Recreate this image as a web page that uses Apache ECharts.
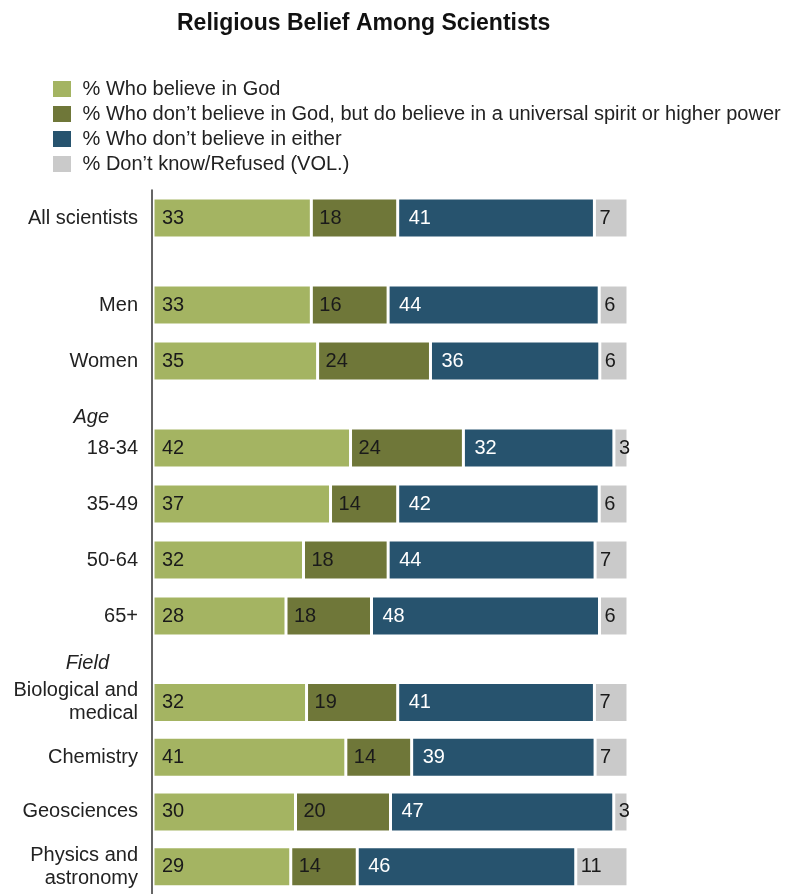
<!DOCTYPE html>
<html><head><meta charset="utf-8">
<script src="https://cdn.jsdelivr.net/npm/echarts@6/dist/echarts.min.js"></script>
<style>html,body{margin:0;padding:0;background:#fff}#c{width:799px;height:894px}</style>
</head><body><div id="c"></div>
<script>
// ---- data ----
const categories = ['All scientists', 'Men', 'Women', '18-34', '35-49', '50-64', '65+',
  'Biological and\nmedical', 'Chemistry', 'Geosciences', 'Physics and\nastronomy'];
const groupHeaders = ['', '', 'Age', 'Field'];
const rowGroup = [0, 1, 1, 2, 2, 2, 2, 3, 3, 3, 3];
const seriesNames = [
  '% Who believe in God',
  '% Who don\u2019t believe in God, but do believe in a universal spirit or higher power',
  '% Who don\u2019t believe in either',
  '% Don\u2019t know/Refused (VOL.)'
];
const believeGod = [33, 33, 35, 42, 37, 32, 28, 32, 41, 30, 29];
const higherPower = [18, 16, 24, 24, 14, 18, 18, 19, 14, 20, 14];
const neither = [41, 44, 36, 32, 42, 44, 48, 41, 39, 47, 46];
const dontKnow = [7, 6, 6, 3, 6, 7, 6, 7, 7, 3, 11];

// ---- layout / style ----
const FONT = 'Liberation Sans, Arial, sans-serif';
const colors = ['#a4b462', '#6f7739', '#27536e', '#cacaca'];
const labelColors = ['#1a1a1a', '#1a1a1a', '#ffffff', '#1a1a1a'];
const labelDist = [9, 8, 11, 5];
const BAND = 56;                       // px per row
const groupTops = [190, 277, 420, 675]; // px top of each group's grid
const headerGaps = [0, 0, 3, 12];
const PLOT_LEFT = 153, PLOT_RIGHT = 171;

const allVals = [believeGod, higherPower, neither, dontKnow];
const totals = categories.map((_, i) => allVals.reduce((s, a) => s + a[i], 0));
const groups = groupHeaders.map((_, g) => categories.map((c, i) => i).filter(i => rowGroup[i] === g));

const grids = [], xAxes = [], yAxes = [], series = [];
groups.forEach((rows, g) => {
  grids.push({ left: PLOT_LEFT, right: PLOT_RIGHT, top: groupTops[g], height: rows.length * BAND });
  xAxes.push({ type: 'value', gridIndex: g, min: 0, max: 100, show: false });
  yAxes.push({
    type: 'category', gridIndex: g, inverse: true,
    data: rows.map(i => categories[i]),
    name: groupHeaders[g],
    nameLocation: 'start',
    nameGap: headerGaps[g],
    nameTextStyle: { fontStyle: 'italic', fontSize: 20, color: '#222', fontFamily: FONT,
                     align: 'right', verticalAlign: 'middle', padding: [0, 44, 0, 0] },
    axisLine: { show: false }, axisTick: { show: false }, splitLine: { show: false },
    axisLabel: { interval: 0, margin: 15, fontSize: 20, lineHeight: 23, color: '#222', fontFamily: FONT }
  });
  allVals.forEach((vals, k) => {
    series.push({
      name: seriesNames[k],
      type: 'bar',
      stack: 'total' + g,
      barWidth: 40,
      xAxisIndex: g, yAxisIndex: g,
      data: rows.map(i => ({ value: vals[i] / totals[i] * 100, raw: vals[i] })),
      itemStyle: { color: colors[k], borderColor: '#ffffff', borderWidth: 1.5 },
      label: {
        show: true, position: 'insideLeft', distance: labelDist[k],
        color: labelColors[k], fontSize: 20, fontFamily: FONT,
        formatter: p => String(p.data.raw)
      },
      emphasis: { disabled: true },
      animation: false
    });
  });
});
// full-height grid that only carries the vertical axis line
const lineGrid = groups.length;
grids.push({ left: PLOT_LEFT - 1, right: PLOT_RIGHT, top: 190, bottom: 0 });
xAxes.push({ type: 'value', gridIndex: lineGrid, min: 0, max: 100, show: false });
yAxes.push({
  type: 'category', gridIndex: lineGrid, data: [''],
  axisLine: { show: true, lineStyle: { color: '#333', width: 1.5 } },
  axisTick: { show: false }, axisLabel: { show: false }, splitLine: { show: false }
});

const chart = echarts.init(document.getElementById('c'), null, { renderer: 'canvas' });
chart.setOption({
  animation: false,
  textStyle: { fontFamily: FONT },
  title: {
    text: 'Religious Belief Among Scientists',
    left: 172, top: 7,
    textStyle: { fontSize: 23, fontWeight: 'bold', color: '#111', fontFamily: FONT }
  },
  legend: {
    orient: 'vertical',
    left: 51, top: 79,
    padding: 0,
    itemWidth: 20, itemHeight: 18, itemGap: 5,
    icon: 'rect',
    selectedMode: false,
    formatter: n => ' ' + n,
    textStyle: { fontSize: 20, color: '#222', fontFamily: FONT },
    data: seriesNames
  },
  grid: grids,
  xAxis: xAxes,
  yAxis: yAxes,
  series: series
});
</script>
</body></html>
